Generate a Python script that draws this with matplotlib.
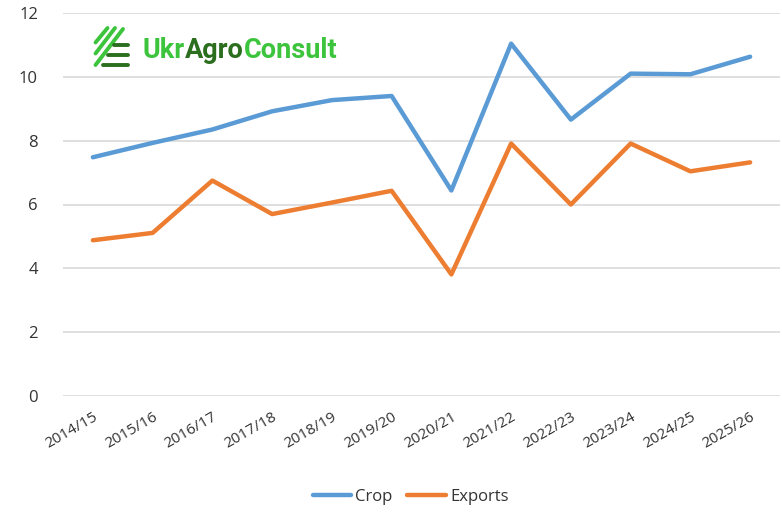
import matplotlib
matplotlib.use("Agg")
import matplotlib.pyplot as plt

seasons = ["2014/15", "2015/16", "2016/17", "2017/18", "2018/19", "2019/20",
           "2020/21", "2021/22", "2022/23", "2023/24", "2024/25", "2025/26"]
crop = [7.48, 7.93, 8.35, 8.92, 9.27, 9.40, 6.44, 11.04, 8.66, 10.10, 10.08, 10.63]
exports = [4.88, 5.11, 6.75, 5.70, 6.06, 6.43, 3.81, 7.91, 6.00, 7.91, 7.04, 7.32]
yticks = [0, 2, 4, 6, 8, 10, 12]

plt.rcParams['font.family'] = ['Open Sans', 'DejaVu Sans']

W, H = 782, 512
fig = plt.figure(figsize=(W / 100, H / 100), dpi=100)
ax = fig.add_axes([63 / W, 1 - 396 / H, (780 - 63) / W, (396 - 13) / H])

x = list(range(len(seasons)))
ax.plot(x, crop, color="#5b9bd5", lw=3.2, solid_capstyle="round", solid_joinstyle="round", label="Crop")
ax.plot(x, exports, color="#ed7d31", lw=3.2, solid_capstyle="round", solid_joinstyle="round", label="Exports")

ax.set_xlim(-0.5, len(seasons) - 0.5)
ax.set_ylim(0, 12)
ax.set_yticks(yticks)
ax.set_yticklabels([str(v) for v in yticks], fontsize=12, color="#333333")
ax.set_xticks(x)
ax.set_xticklabels(seasons, fontsize=11, color="#333333", rotation=30, ha="right", rotation_mode="anchor")
ax.tick_params(axis="both", length=0)
ax.tick_params(axis="y", pad=18)
ax.tick_params(axis="x", pad=10)
ax.grid(axis="y", color="#d9d9d9", lw=1.2)
ax.set_axisbelow(True)
for s in ax.spines.values():
    s.set_visible(False)

leg = fig.legend(loc="center", bbox_to_anchor=(0.525, 1 - 497 / H), ncol=2, frameon=False,
                 fontsize=12, handlelength=2.3, handletextpad=0.25, columnspacing=0.9)
for t in leg.get_texts():
    t.set_color("#333333")

# Logo icon
iax = fig.add_axes([88 / W, 1 - 70 / H, 50 / W, 48 / H])
iax.set_xlim(0, 50)
iax.set_ylim(48, 0)
iax.axis("off")
lg = "#3cc43c"
dg = "#2b6e1e"
iax.plot([7.5, 19.5], [20.5, 6], color=lg, lw=2.8, solid_capstyle="round")
iax.plot([7.5, 27], [31.5, 6], color=lg, lw=2.8, solid_capstyle="round")
iax.plot([7.5, 35], [43, 7], color=lg, lw=2.8, solid_capstyle="round")
iax.plot([26, 39.5], [23.3, 23.3], color=dg, lw=2.8, solid_capstyle="round")
iax.plot([20, 39.5], [33.3, 33.3], color=dg, lw=2.8, solid_capstyle="round")
iax.plot([14.5, 39.5], [42.7, 42.7], color=dg, lw=2.8, solid_capstyle="round")

ty = 1 - 51 / H
fs = 19.5
t1 = fig.text(143 / W, ty, "Ukr", fontsize=fs, fontweight="bold", color=lg, family="Roboto", va="center")
fig.canvas.draw()
r = fig.canvas.get_renderer()
bb = t1.get_window_extent(r)
t2 = fig.text(bb.x1 / W, ty, "Agro", fontsize=fs, fontweight="bold", color=dg, family="Roboto", va="center")
bb2 = t2.get_window_extent(r)
fig.text(bb2.x1 / W, ty, "Consult", fontsize=fs, fontweight="bold", color=lg, family="Roboto", va="center")

fig.savefig("out.png", dpi=100)
